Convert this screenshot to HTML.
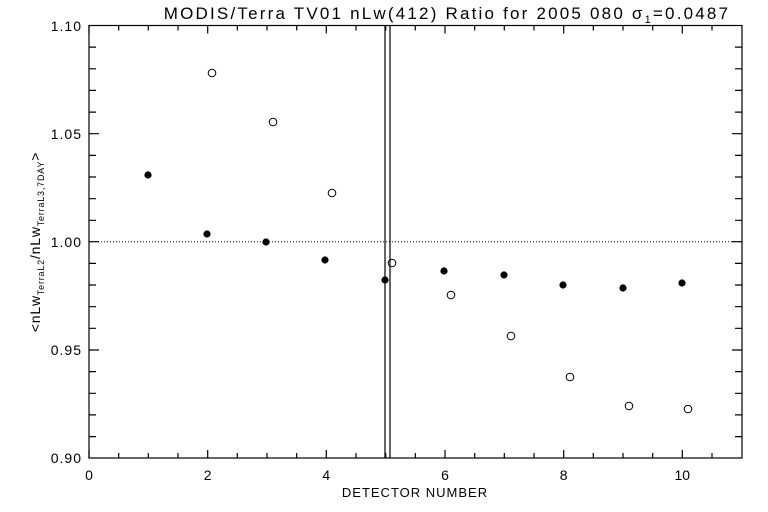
<!DOCTYPE html><html><head><style>body{margin:0;background:#fff}svg{display:block}text{font-family:"Liberation Sans",sans-serif;fill:#000}</style></head><body>
<svg width="768" height="512" xmlns="http://www.w3.org/2000/svg">
<rect width="768" height="512" fill="#fff"/>
<text x="447" y="19" font-size="17" letter-spacing="2.2" text-anchor="middle">MODIS/Terra TV01 nLw(412) Ratio for 2005 080 σ<tspan font-size="11" dy="4">1</tspan><tspan dy="-4">=0.0487</tspan></text>
<g stroke="#000" stroke-width="1.2" fill="none">
<rect x="89" y="25.5" width="653" height="432.5"/>
<line x1="385" y1="25.5" x2="385" y2="458"/><line x1="390" y1="25.5" x2="390" y2="458"/>
<line x1="89" y1="241.7" x2="742" y2="241.7" stroke-dasharray="1,2" stroke-width="1"/>
<path d="
M89,458v-8M118.7,458v-5M148.3,458v-5M178,458v-5M207.7,458v-8M237.3,458v-5M267,458v-5M296.7,458v-5M326.3,458v-8M356,458v-5M385.7,458v-5M415.3,458v-5M445,458v-8M474.7,458v-5M504.3,458v-5M534,458v-5M563.7,458v-8M593.3,458v-5M623,458v-5M652.7,458v-5M682.3,458v-8M712,458v-5
M89,25.5v8M118.7,25.5v5M148.3,25.5v5M178,25.5v5M207.7,25.5v8M237.3,25.5v5M267,25.5v5M296.7,25.5v5M326.3,25.5v8M356,25.5v5M385.7,25.5v5M415.3,25.5v5M445,25.5v8M474.7,25.5v5M504.3,25.5v5M534,25.5v5M563.7,25.5v8M593.3,25.5v5M623,25.5v5M652.7,25.5v5M682.3,25.5v8M712,25.5v5
M89,47.1h7M89,68.8h7M89,90.4h7M89,112.1h7M89,133.7h10M89,155.4h7M89,177h7M89,198.7h7M89,220.3h7M89,241.7h10M89,263.4h7M89,285h7M89,306.7h7M89,328.3h7M89,350h10M89,371.6h7M89,393.3h7M89,414.9h7M89,436.6h7
M742,47.1h-7M742,68.8h-7M742,90.4h-7M742,112.1h-7M742,133.7h-10M742,155.4h-7M742,177h-7M742,198.7h-7M742,220.3h-7M742,241.7h-10M742,263.4h-7M742,285h-7M742,306.7h-7M742,328.3h-7M742,350h-10M742,371.6h-7M742,393.3h-7M742,414.9h-7M742,436.6h-7"/>
</g>
<g font-size="14" letter-spacing="1" text-anchor="end">
<text x="82" y="31">1.10</text><text x="82" y="139">1.05</text><text x="82" y="247">1.00</text><text x="82" y="355">0.95</text><text x="82" y="463">0.90</text>
</g>
<g font-size="14" text-anchor="middle">
<text x="89" y="480">0</text><text x="207.7" y="480">2</text><text x="326.3" y="480">4</text><text x="445" y="480">6</text><text x="563.7" y="480">8</text><text x="682.3" y="480">10</text>
<text x="415" y="497" font-size="13" letter-spacing="1">DETECTOR NUMBER</text>
</g>
<text transform="translate(40,242) rotate(-90)" font-size="14" letter-spacing="0.8" text-anchor="middle">&lt;nLw<tspan font-size="9" dy="4">TerraL2</tspan><tspan dy="-4">/nLw</tspan><tspan font-size="9" dy="4">TerraL3,7DAY</tspan><tspan dy="-4">&gt;</tspan></text>
<g fill="#000">
<circle cx="148" cy="175" r="3.6"/><circle cx="207" cy="234" r="3.6"/><circle cx="266" cy="242" r="3.6"/><circle cx="325" cy="260" r="3.6"/><circle cx="385" cy="280" r="3.6"/><circle cx="444" cy="271" r="3.6"/><circle cx="504" cy="275" r="3.6"/><circle cx="563" cy="285" r="3.6"/><circle cx="623" cy="288" r="3.6"/><circle cx="682" cy="283" r="3.6"/>
</g>
<g fill="none" stroke="#000" stroke-width="1">
<circle cx="212" cy="73" r="3.8"/><circle cx="273" cy="122" r="3.8"/><circle cx="332" cy="193" r="3.8"/><circle cx="392" cy="263" r="3.8"/><circle cx="451" cy="295" r="3.8"/><circle cx="511" cy="336" r="3.8"/><circle cx="570" cy="377" r="3.8"/><circle cx="629" cy="406" r="3.8"/><circle cx="688" cy="409" r="3.8"/>
</g>
</svg></body></html>
